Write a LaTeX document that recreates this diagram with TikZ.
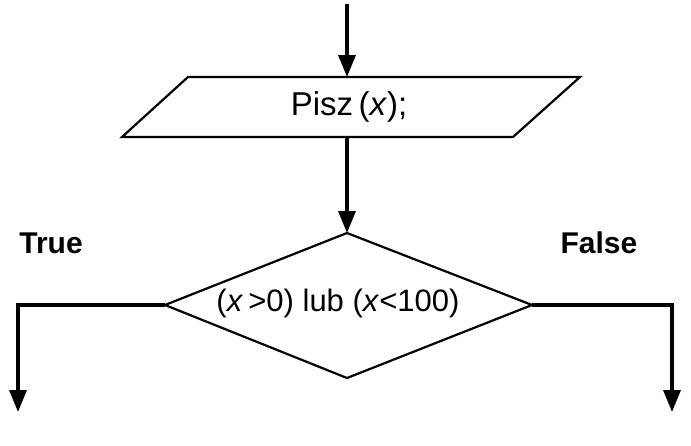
\documentclass[tikz,border=0pt]{standalone}
\usepackage{fontspec}
\setmainfont{Liberation Sans}
\usetikzlibrary{arrows.meta}
\begin{document}
\begin{tikzpicture}[x=1pt,y=-1pt,
  line/.style={line width=3.4pt,line join=miter},
  arr/.style={line, -{Triangle[length=22pt,width=17pt]}},
  shp/.style={line width=2.2pt},
  txt/.style={font=\fontsize{33}{36}\selectfont},
  lab/.style={font=\fontsize{30}{34}\selectfont\bfseries}]
\useasboundingbox (0,0) rectangle (691,445);
\coordinate (start) at (347,4);
\draw[shp] (188,77) coordinate (ptl) -- (580,77) -- (513,137) -- (122,137) -- cycle;
\node[txt] (out) at (349,107) {Pisz\,(\textit{x});};
\coordinate (outtop) at (347,77);
\coordinate (outbot) at (347,137);
\draw[shp] (347,233) coordinate (dtop) -- (532,305) coordinate (dright) -- (347,378) -- (165,305) coordinate (dleft) -- cycle;
\node[txt,font=\fontsize{31}{34}\selectfont] (cond) at (338,303) {(\textit{x}\,>0) lub (\textit{x}<100)};
\coordinate (lend) at (18,412);
\coordinate (rend) at (672,412);
\node[lab] (t) at (51,243) {True};
\node[lab] (f) at (599,243) {False};
\draw[arr] (start) -- (outtop);
\draw[arr] (outbot) -- (dtop);
\draw[arr] (dleft) -| (lend);
\draw[arr] (dright) -| (rend);
\end{tikzpicture}
\end{document}
